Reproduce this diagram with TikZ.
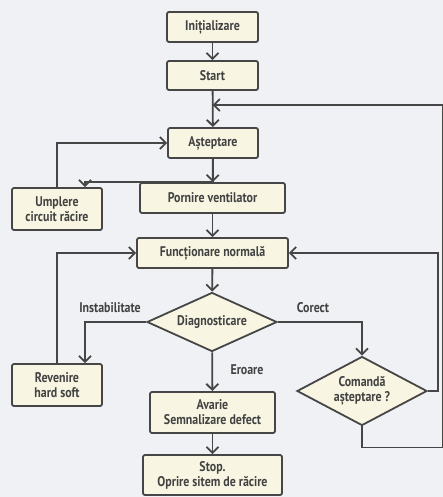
\documentclass[tikz,border=0pt]{standalone}
\usepackage{fontspec}
\setmainfont{PT Sans}
\newfontfamily\flowfont{PT Sans Bold}[FakeStretch=0.85]
\usetikzlibrary{arrows.meta,shapes.geometric}

\definecolor{bgpaper}{RGB}{239,241,244}
\definecolor{boxfill}{RGB}{248,246,226}
\definecolor{inkgray}{RGB}{70,70,70}
\definecolor{txtgray}{RGB}{66,66,66}

\tikzset{
	stepbox/.style={rectangle,rounded corners=2pt,draw=inkgray,line width=1.8pt,fill=boxfill,
		text=txtgray,font=\flowfont\fontsize{14}{15}\selectfont,align=center,inner sep=1pt},
	testbox/.style={diamond,draw=inkgray,line width=1.8pt,fill=boxfill,aspect=2.2,
		text=txtgray,font=\flowfont\fontsize{14}{15}\selectfont,align=center,inner sep=0pt},
	flow/.style={->,draw=inkgray,line width=1.8pt},
	tag/.style={text=txtgray,font=\flowfont\fontsize{14}{15}\selectfont}
}

\begin{document}
\begin{tikzpicture}[x=1pt,y=-1pt,>={Straight Barb[length=6pt,width=12pt]}]
	\fill[bgpaper] (0,0) rectangle (443,497);
	\useasboundingbox (0,0) rectangle (443,497);
	\path (212.5,27) node[stepbox,minimum width=91pt,minimum height=30pt] (init) {Inițializare}
	(212.5,75.5) node[stepbox,minimum width=91pt,minimum height=29pt] (start) {Start}
	(213,143) node[stepbox,minimum width=90pt,minimum height=30pt] (wait) {Așteptare}
	(57,209) node[stepbox,minimum width=90pt,minimum height=42pt] (fill) {Umplere\\circuit răcire}
	(212.5,198) node[stepbox,minimum width=145pt,minimum height=30pt] (fan) {Pornire ventilator}
	(212.5,253) node[stepbox,minimum width=151pt,minimum height=30pt] (run) {Funcționare normală}
	(212,322) node[testbox,minimum width=130pt,minimum height=59pt] (diag) {Diagnosticare}
	(57,385) node[stepbox,minimum width=90pt,minimum height=42pt] (reset) {Revenire\\hard soft}
	(362,391) node[testbox,minimum width=130pt,minimum height=69pt] (cmd) {Comandă\\așteptare ?}
	(212.5,412.5) node[stepbox,minimum width=125pt,minimum height=41pt] (fault) {Avarie\\Semnalizare defect}
	(212.5,475) node[stepbox,minimum width=139pt,minimum height=40pt] (stop) {Stop.\\Oprire sitem de răcire};
	\coordinate (back) at (212.5,105);
	\node[tag] (linst) at (110,308) {Instabilitate};
	\node[tag] (lok) at (313,308) {Corect};
	\node[tag] (lerr) at (247,370) {Eroare};
	\draw[flow] (init) -- (start);
	\draw[flow] (start) -- (wait);
	\draw[flow] (wait.south) -- ++(0,23) -| ([xshift=28pt]fill.north);
	\draw[flow] (wait) -- (fan);
	\draw[flow] (fill.north) |- (wait.west);
	\draw[flow] (fan) -- (run);
	\draw[flow] (run) -- (diag);
	\draw[flow] (diag.west) -| ([xshift=28pt]reset.north);
	\draw[flow] (reset.north) |- (run.west);
	\draw[flow] (diag.east) -| (cmd.north);
	\draw[flow] (diag) -- (fault);
	\draw[flow] (fault) -- (stop);
	\draw[flow] (cmd.east) -- ++(10,0) |- (run.east);
	\draw[flow] (cmd.south) -- ++(0,21) -| (443,105) -- (back);
\end{tikzpicture}
\end{document}
